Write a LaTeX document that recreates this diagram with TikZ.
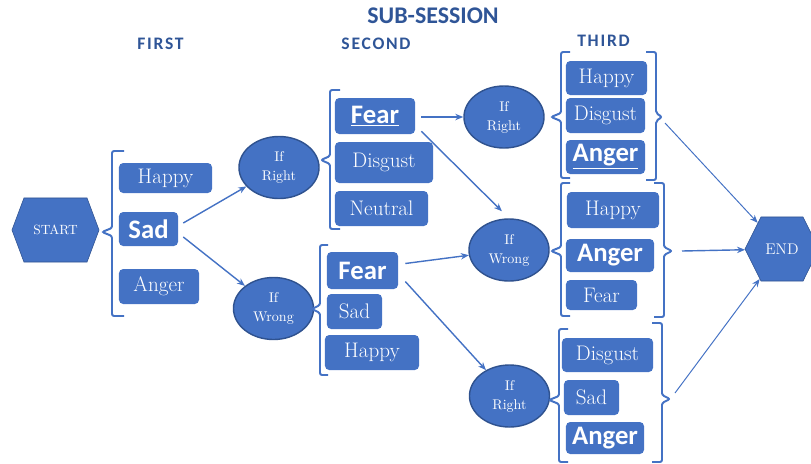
\documentclass[tikz,border=0pt]{standalone}
\usepackage{fontspec}
\newfontfamily\calibri{Carlito}
\newfontfamily\headfont[LetterSpace=10]{Carlito}
\usepackage{xcolor}
\usepackage{tikz}
\usetikzlibrary{shapes.geometric, shapes.symbols, arrows.meta}

\definecolor{boxblue}{HTML}{4472C4}
\definecolor{edgeblue}{HTML}{2F528F}
\definecolor{titleblue}{HTML}{2F5597}

\begin{document}
\begin{tikzpicture}[
    x=0.025cm, y=0.025cm,
    emo/.style={fill=boxblue, rounded corners=3pt, text=white, inner sep=0pt, align=center, font=\rmfamily\fontsize{15}{17}\selectfont},
    emobold/.style={emo, font=\calibri\bfseries\fontsize{19}{21}\selectfont},
    cond/.style={ellipse, draw=edgeblue, line width=1pt, fill=boxblue, text=white, inner sep=0pt, minimum width=2cm, minimum height=1.55cm, align=center, font=\rmfamily\fontsize{10}{13.5}\selectfont},
    term/.style={signal, signal to=west and east, draw=edgeblue, fill=boxblue, text=white, inner sep=0pt, minimum height=1.6cm},
    brk/.style={draw=boxblue, line width=1.4pt, rounded corners=1.5pt},
    arrow/.style={-{Stealth[length=2mm, width=1.6mm]}, draw=boxblue, line width=1pt},
    thin arrow/.style={arrow, line width=0.7pt},
    head/.style={font=\headfont\bfseries\fontsize{12.5}{14}\selectfont, text=titleblue},
  ]
  \useasboundingbox (0,0) rectangle (811,-463);

  % Headings
  \node[font=\calibri\bfseries\fontsize{17}{19}\selectfont, text=titleblue] (title) at (433,-15.5) {SUB-SESSION};
  \node[head] (first) at (160.5,-44) {FIRST};
  \node[head] (second) at (376,-44) {SECOND};
  \node[head] (third) at (603.5,-41) {THIRD};

  % Start and end
  \node[term, minimum width=2.175cm, signal pointer angle=139, font=\rmfamily\fontsize{9.5}{12}\selectfont] (start) at (55.5,-230) {START};
  \node[term, minimum width=1.85cm, signal pointer angle=127, font=\rmfamily\fontsize{11}{13}\selectfont] (end) at (782,-249) {END};

  % First
  \node[emo, minimum width=2.325cm, minimum height=0.75cm] (hap1) at (165.5,-178) {Happy};
  \node[emobold, minimum width=1.475cm, minimum height=0.85cm] (sad1) at (148.5,-229) {Sad};
  \node[emo, minimum width=2cm, minimum height=0.875cm] (ang1) at (159,-286.5) {Anger};

  % Conditions
  \node[cond] (ifr1) at (279,-167.5) {If\\Right};
  \node[cond] (ifw1) at (273.5,-308.5) {If\\Wrong};
  \node[cond] (ifr2) at (504,-117) {If\\Right};
  \node[cond] (ifw2) at (509,-250) {If\\Wrong};
  \node[cond] (ifr3) at (509.5,-396) {If\\Right};

  % Second, after right
  \node[emobold, minimum width=2cm, minimum height=0.9cm] (fear2) at (375,-116) {\underline{Fear}};
  \node[emo, minimum width=2.45cm, minimum height=1.025cm] (dis2) at (384,-162.5) {Disgust};
  \node[emo, minimum width=2.325cm, minimum height=0.875cm] (neu2) at (381.5,-208.5) {Neutral};

  % Second, after wrong
  \node[emobold, minimum width=1.775cm, minimum height=0.925cm] (fear3) at (362.5,-270.5) {Fear};
  \node[emo, minimum width=1.375cm, minimum height=0.875cm] (sad3) at (354.5,-311.5) {Sad};
  \node[emo, minimum width=2.35cm, minimum height=0.875cm] (hap3) at (372,-352.5) {Happy};

  % Third
  \node[emo, minimum width=2.025cm, minimum height=0.85cm] (hap4) at (606.5,-78) {Happy};
  \node[emo, minimum width=1.975cm, minimum height=0.875cm] (dis4) at (605.5,-115.5) {Disgust};
  \node[emobold, minimum width=1.975cm, minimum height=0.85cm] (ang4) at (605.5,-157) {\underline{Anger}};

  \node[emo, minimum width=2.3cm, minimum height=0.9cm] (hap5) at (613,-210) {Happy};
  \node[emobold, minimum width=2.2cm, minimum height=0.825cm] (ang5) at (610,-255.5) {Anger};
  \node[emo, minimum width=1.775cm, minimum height=0.75cm] (fear5) at (601.5,-295) {Fear};

  \node[emo, minimum width=2.275cm, minimum height=0.85cm] (dis6) at (607.5,-355) {Disgust};
  \node[emo, minimum width=1.375cm, minimum height=0.875cm] (sad6) at (591.5,-397.5) {Sad};
  \node[emobold, minimum width=1.95cm, minimum height=0.8cm] (ang6) at (605,-438) {Anger};

  % Brackets
  \draw[brk] (124,-151) -- (112,-151) -- (112,-228) -- (102,-232) -- (112,-236) -- (112,-316) -- (124,-316);
  \draw[brk] (340,-90) -- (330,-90) -- (330,-156) -- (321,-160) -- (330,-164) -- (330,-229) -- (340,-229);
  \draw[brk] (328,-245) -- (320,-245) -- (320,-305) -- (312,-309) -- (320,-313) -- (320,-375) -- (328,-375);
  \draw[brk] (570,-52) -- (561,-52) -- (561,-113) -- (551,-117) -- (561,-121) -- (561,-178) -- (570,-178);
  \draw[brk] (646,-52) -- (656,-52) -- (656,-113) -- (662,-117) -- (656,-121) -- (656,-180) -- (646,-180);
  \draw[brk] (570,-183) -- (561,-183) -- (561,-247) -- (551,-251) -- (561,-255) -- (561,-316) -- (570,-316);
  \draw[brk] (654,-183) -- (664,-183) -- (664,-247) -- (672,-251) -- (664,-255) -- (664,-317) -- (654,-317);
  \draw[brk] (568,-329) -- (559,-329) -- (559,-396) -- (549,-400) -- (559,-404) -- (559,-462) -- (568,-462);
  \draw[brk] (652,-323) -- (662,-323) -- (662,-395) -- (670,-399) -- (662,-403) -- (662,-462) -- (652,-462);

  % Arrows
  \draw[arrow] (sad1.east) +(5,6) -- (ifr1);
  \draw[arrow] (sad1.east) +(5,-8) -- (ifw1);
  \draw[arrow] (fear2.east) +(6,-1) -- (ifr2);
  \draw[arrow, shorten >=0.25cm] (fear2.south east) +(6,3) -- (ifw2.north);
  \draw[arrow] (fear3.east) +(7,7) -- (ifw2);
  \draw[arrow] (fear3.east) +(7,-11) -- (ifr3);

  % Into the end
  \coordinate (out4) at (665,-123);
  \coordinate (out5) at (682,-251);
  \coordinate (out6) at (675,-393);
  \draw[thin arrow] (out4) -- (end);
  \draw[arrow] (out5) -- (end);
  \draw[thin arrow] (out6) -- (end);

\end{tikzpicture}
\end{document}
